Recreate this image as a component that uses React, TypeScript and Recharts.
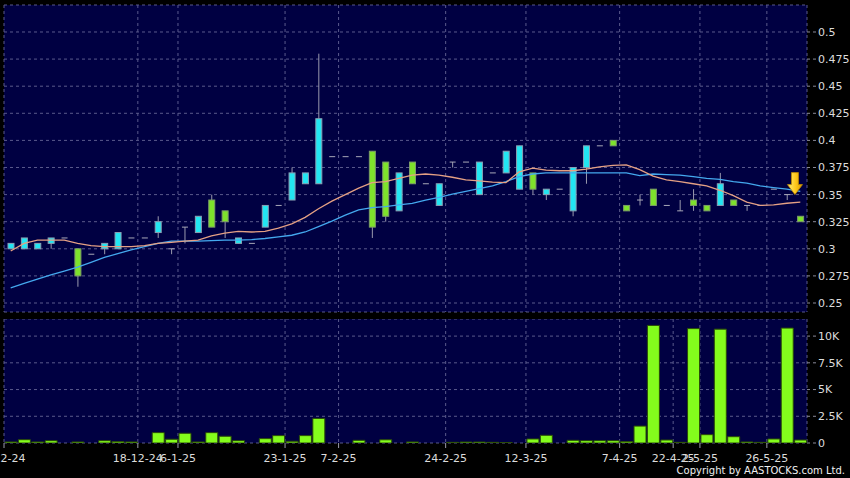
import { ComposedChart, Bar, Line, XAxis, YAxis, CartesianGrid, ReferenceDot } from "recharts";

// one slot per session, left to right
const OPEN = [
  0.300, 0.300, 0.300, 0.305, 0.310, 0.300, 0.295, 0.300, 0.300, 0.310,
  0.310, 0.315, 0.300, 0.320, 0.315, 0.345, 0.335, 0.305, 0.305, 0.320,
  0.340, 0.345, 0.360, 0.360, 0.385, 0.385, 0.385, 0.390, 0.380, 0.335,
  0.380, 0.360, 0.340, 0.380, 0.380, 0.350, 0.370, 0.370, 0.355, 0.370,
  0.350, 0.355, 0.335, 0.375, 0.395, 0.400, 0.340, 0.345, 0.355, 0.340,
  0.335, 0.345, 0.340, 0.340, 0.345, 0.340, 0.340, 0.355, 0.350, 0.330,
];
const HIGH = [
  0.305, 0.310, 0.305, 0.310, 0.310, 0.300, 0.295, 0.305, 0.315, 0.310,
  0.310, 0.330, 0.300, 0.320, 0.330, 0.350, 0.335, 0.310, 0.305, 0.340,
  0.340, 0.375, 0.370, 0.480, 0.385, 0.385, 0.385, 0.390, 0.380, 0.370,
  0.380, 0.360, 0.360, 0.380, 0.380, 0.380, 0.370, 0.390, 0.395, 0.370,
  0.355, 0.355, 0.375, 0.395, 0.395, 0.400, 0.340, 0.350, 0.355, 0.340,
  0.345, 0.355, 0.340, 0.370, 0.345, 0.340, 0.340, 0.355, 0.350, 0.330,
];
const LOW = [
  0.300, 0.300, 0.300, 0.300, 0.310, 0.265, 0.295, 0.295, 0.300, 0.310,
  0.310, 0.310, 0.295, 0.305, 0.315, 0.320, 0.310, 0.305, 0.305, 0.320,
  0.340, 0.345, 0.360, 0.360, 0.385, 0.385, 0.385, 0.310, 0.325, 0.335,
  0.360, 0.360, 0.340, 0.375, 0.380, 0.350, 0.370, 0.370, 0.355, 0.350,
  0.345, 0.355, 0.330, 0.360, 0.395, 0.395, 0.335, 0.340, 0.340, 0.340,
  0.335, 0.335, 0.335, 0.340, 0.340, 0.335, 0.340, 0.355, 0.345, 0.325,
];
const CLOSE = [
  0.305, 0.310, 0.305, 0.310, 0.310, 0.275, 0.295, 0.305, 0.315, 0.310,
  0.310, 0.325, 0.300, 0.320, 0.330, 0.320, 0.325, 0.310, 0.305, 0.340,
  0.340, 0.370, 0.370, 0.420, 0.385, 0.385, 0.385, 0.320, 0.330, 0.370,
  0.360, 0.360, 0.360, 0.380, 0.380, 0.380, 0.370, 0.390, 0.395, 0.355,
  0.355, 0.355, 0.375, 0.395, 0.395, 0.395, 0.335, 0.345, 0.340, 0.340,
  0.335, 0.340, 0.335, 0.360, 0.340, 0.340, 0.340, 0.355, 0.350, 0.325,
];
const MA10 = [
  0.298, 0.305, 0.308, 0.308, 0.308, 0.305, 0.303, 0.302, 0.302, 0.302,
  0.303, 0.305, 0.306, 0.307, 0.308, 0.312, 0.3145, 0.316, 0.3155, 0.316,
  0.319, 0.323, 0.329, 0.337, 0.344, 0.350, 0.356, 0.361, 0.362, 0.365,
  0.368, 0.369, 0.368, 0.366, 0.3635, 0.3626, 0.3615, 0.361, 0.371, 0.3745,
  0.3725, 0.372, 0.372, 0.3735, 0.3755, 0.377, 0.3775, 0.373, 0.367, 0.3635,
  0.362, 0.360, 0.358, 0.354, 0.349, 0.343, 0.340, 0.3405, 0.342, 0.343,
];
const MA20 = [
  0.264, 0.268, 0.272, 0.276, 0.2795, 0.283, 0.2875, 0.292, 0.2955, 0.299,
  0.302, 0.305, 0.307, 0.307, 0.307, 0.3075, 0.308, 0.308, 0.3085, 0.3095,
  0.311, 0.3125, 0.3155, 0.3205, 0.3255, 0.331, 0.336, 0.338, 0.339, 0.3405,
  0.342, 0.345, 0.3475, 0.3505, 0.353, 0.3555, 0.358, 0.362, 0.3665, 0.369,
  0.370, 0.370, 0.370, 0.370, 0.370, 0.370, 0.370, 0.3675, 0.369, 0.3685,
  0.368, 0.3665, 0.365, 0.364, 0.362, 0.3605, 0.358, 0.3565, 0.355, 0.353,
];
const VOLUME = [
  100, 310, 100, 220, 0, 100, 0, 220, 130, 100,
  0, 970, 350, 910, 100, 970, 630, 220, 0, 410,
  690, 160, 690, 2300, 0, 0, 250, 0, 300, 0,
  100, 0, 0, 60, 90, 90, 60, 40, 0, 380,
  720, 0, 250, 220, 220, 220, 130, 1580, 11000, 280,
  60, 10700, 780, 10650, 590, 100, 60, 380, 10750, 280,
];

const TICK_SLOTS = [0, 10, 13, 21, 25, 33, 39, 46, 50, 52, 57];
const TICK_LABELS = [
  "2-12-24", "18-12-24", "6-1-25", "23-1-25", "7-2-25", "24-2-25",
  "12-3-25", "7-4-25", "22-4-25", "2-5-25", "26-5-25",
];
const PRICE_TICKS = [0.25, 0.275, 0.3, 0.325, 0.35, 0.375, 0.4, 0.425, 0.45, 0.475, 0.5];
const VOLUME_TICKS = [0, 2500, 5000, 7500, 10000];
const SIGNAL = { slot: 58.6, price: 0.35 };

const data = OPEN.map((o, i) => ({
  i,
  open: o,
  high: HIGH[i],
  low: LOW[i],
  close: CLOSE[i],
  ma10: MA10[i],
  ma20: MA20[i],
  volume: VOLUME[i],
}));

const xTicks = TICK_SLOTS.map((s) => s - 0.5);
const xLabel = (v: number) => TICK_LABELS[xTicks.indexOf(v)] ?? "";

const FONT = "DejaVu Sans";
const tickStyle = { fill: "#dcdcdc", fontSize: 11, fontFamily: FONT };
const GRID = "#5a5a8c";
const NAVY = "#000042";

function Candle(props: any) {
  const { x, y, width, height, payload } = props;
  const { open, high, low, close } = payload;
  const top = Math.min(y, y + height);
  const bottom = Math.max(y, y + height);
  const cx = x + width / 2;
  const k = high > low ? (bottom - top) / (high - low) : 0;
  const yOf = (v: number) => top + (high - v) * k;
  const bTop = yOf(Math.max(open, close));
  const bBot = yOf(Math.min(open, close));

  if (open === close) {
    return (
      <g>
        {high > low && <line x1={cx} x2={cx} y1={top} y2={bottom} stroke="#9a9aae" strokeWidth={1} />}
        <line x1={x} x2={x + width} y1={bTop} y2={bTop} stroke="#a8a8b8" strokeWidth={1} />
      </g>
    );
  }
  const up = close > open;
  return (
    <g>
      {high > low && <line x1={cx} x2={cx} y1={top} y2={bottom} stroke="#9a9aae" strokeWidth={1} />}
      <rect
        x={x}
        y={bTop}
        width={width}
        height={Math.max(bBot - bTop, 1)}
        fill={up ? "#22e6f2" : "#7ee22c"}
        stroke={up ? "#8aa0b4" : "#7c9c68"}
        strokeWidth={1}
      />
    </g>
  );
}

function Arrow({ cx, cy }: any) {
  const d = `M${cx - 3.5},${cy - 22} L${cx + 3.5},${cy - 22} L${cx + 3.5},${cy - 10} L${cx + 7.5},${cy - 10} L${cx},${cy} L${cx - 7.5},${cy - 10} L${cx - 3.5},${cy - 10} Z`;
  return (
    <g>
      <defs>
        <linearGradient id="gold" x1="0" y1="0" x2="1" y2="0">
          <stop offset="0%" stopColor="#fff07a" />
          <stop offset="55%" stopColor="#ffc81a" />
          <stop offset="100%" stopColor="#d89a00" />
        </linearGradient>
      </defs>
      <path d={d} fill="url(#gold)" stroke="#c08a00" strokeWidth={0.8} />
    </g>
  );
}

export default function App() {
  return (
    <div style={{ position: "absolute", left: 0, top: 0, width: 850, height: 478, background: "#000", overflow: "hidden" }}>
      <div style={{ position: "absolute", left: 0, top: 0 }}>
        <ComposedChart width={850} height={320} data={data} margin={{ top: 5, right: 0, bottom: 8, left: 4 }}>
          <CartesianGrid stroke={GRID} strokeDasharray="3 3" fill={NAVY} />
          <XAxis dataKey="i" type="number" domain={[-0.5, 59.5]} ticks={xTicks} hide />
          <YAxis
            orientation="right"
            width={43}
            domain={[0.2417, 0.5249]}
            allowDataOverflow
            ticks={PRICE_TICKS}
            interval={0}
            tick={tickStyle}
            tickSize={9}
            tickMargin={2}
            tickLine={{ stroke: "#8a8a9a", strokeDasharray: "3 3" }}
            axisLine={false}
            tickFormatter={(v: number) => String(v)}
          />
          <Line dataKey="ma20" stroke="#44a8ee" strokeWidth={1.3} dot={false} isAnimationActive={false} />
          <Line dataKey="ma10" stroke="#e4a084" strokeWidth={1.3} dot={false} isAnimationActive={false} />
          <Bar dataKey={(d: any) => [d.low, d.high]} barSize={6} shape={Candle} isAnimationActive={false} />
          <ReferenceDot x={SIGNAL.slot} y={SIGNAL.price} shape={Arrow} />
        </ComposedChart>
      </div>
      <div style={{ position: "absolute", left: 0, top: 319 }}>
        <ComposedChart width={850} height={159} data={data} margin={{ top: 0, right: 0, bottom: 0, left: 4 }}>
          <CartesianGrid stroke={GRID} strokeDasharray="3 3" fill={NAVY} />
          <XAxis
            dataKey="i"
            type="number"
            domain={[-0.5, 59.5]}
            ticks={xTicks}
            interval={0}
            height={35}
            tick={tickStyle}
            tickSize={5}
            tickMargin={6}
            tickLine={{ stroke: "#9a9aaa" }}
            axisLine={false}
            tickFormatter={xLabel}
          />
          <YAxis
            orientation="right"
            width={43}
            domain={[0, 11600]}
            allowDataOverflow
            ticks={VOLUME_TICKS}
            interval={0}
            tick={tickStyle}
            tickSize={9}
            tickMargin={2}
            tickLine={{ stroke: "#8a8a9a", strokeDasharray: "3 3" }}
            axisLine={false}
            tickFormatter={(v: number) => (v === 0 ? "0" : `${v / 1000}K`)}
          />
          <Bar dataKey="volume" barSize={12} fill="#84fc1c" stroke="#2a4a08" strokeWidth={1} isAnimationActive={false} />
        </ComposedChart>
      </div>
      <div
        style={{
          position: "absolute",
          right: 5,
          top: 465,
          fontSize: 10,
          fontFamily: FONT,
          color: "#f0f0f0",
          lineHeight: "12px",
        }}
      >
        Copyright by AASTOCKS.com Ltd.
      </div>
    </div>
  );
}
